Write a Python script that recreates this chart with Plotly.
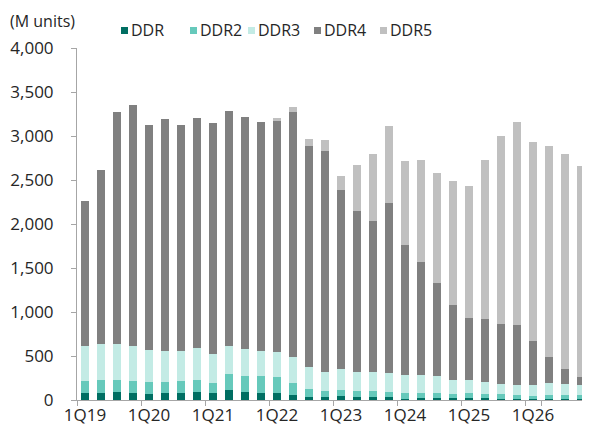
import plotly.graph_objects as go

# quarterly DRAM shipments by generation (M units)
quarters = [
    "1Q19", "2Q19", "3Q19", "4Q19", "1Q20", "2Q20", "3Q20", "4Q20",
    "1Q21", "2Q21", "3Q21", "4Q21", "1Q22", "2Q22", "3Q22", "4Q22",
    "1Q23", "2Q23", "3Q23", "4Q23", "1Q24", "2Q24", "3Q24", "4Q24",
    "1Q25", "2Q25", "3Q25", "4Q25", "1Q26", "2Q26", "3Q26", "4Q26",
]
tick_labels = ["1Q19", "1Q20", "1Q21", "1Q22", "1Q23", "1Q24", "1Q25", "1Q26"]

ddr = [80, 83, 95, 83, 72, 83, 83, 95, 83, 117, 95, 83, 83, 61, 34, 38,
       42, 38, 35, 30, 15, 19, 19, 19, 19, 19, 15, 11, 11, 11, 11, 11]
ddr2 = [136, 148, 132, 137, 133, 125, 137, 136, 110, 182, 178, 194, 178, 132, 91, 64,
        75, 64, 67, 65, 65, 64, 64, 53, 64, 53, 49, 46, 38, 46, 50, 46]
ddr3 = [401, 402, 409, 394, 367, 353, 337, 356, 330, 318, 310, 284, 284, 296, 250, 220,
        231, 212, 216, 216, 204, 201, 186, 155, 148, 133, 114, 113, 121, 132, 121, 113]
ddr4 = [1644, 1981, 2633, 2742, 2557, 2632, 2568, 2621, 2629, 2671, 2633, 2598, 2629, 2780, 2515, 2504,
        2042, 1838, 1720, 1931, 1474, 1288, 1064, 856, 705, 719, 689, 678, 504, 303, 174, 95]
ddr5 = [0, 0, 0, 0, 0, 0, 0, 0, 0, 0, 0, 0, 31, 64, 76, 129,
        152, 522, 754, 868, 962, 1155, 1247, 1406, 1492, 1799, 2137, 2315, 2258, 2398, 2443, 2394]

series_names = ["DDR", "DDR2", "DDR3", "DDR4", "DDR5"]
series_values = [ddr, ddr2, ddr3, ddr4, ddr5]
series_colors = ["#006e62", "#66c9bb", "#c3ebe5", "#808080", "#c0c0c0"]

FONT = "Open Sans"
TEXT = "#262626"
AXIS = "#a6a6a6"

# the page body has an 8px margin, so the figure is drawn 8px in from the corner
OFF = 8
W, H = 590 - OFF, 437 - OFF
L, R, T, B = 69, 1, 40, 37
pw, ph = W - L - R, H - T - B


def px_x(sx):
    return (sx - OFF - L) / pw


def px_y(sy):
    return (H - B - (sy - OFF)) / ph


fig = go.Figure()
for name, vals, col in zip(series_names, series_values, series_colors):
    fig.add_trace(go.Bar(
        x=quarters, y=vals, name=name,
        marker=dict(color=col, line=dict(width=0)),
        showlegend=False,
    ))

# hand-built legend row (small squares like the original)
legend_px = [121, 190, 248, 314, 380]
for sx, name, col in zip(legend_px, series_names, series_colors):
    fig.add_shape(type="rect", xref="paper", yref="paper",
                  x0=px_x(sx), x1=px_x(sx + 7),
                  y0=px_y(34), y1=px_y(27),
                  fillcolor=col, line=dict(width=0))
    fig.add_annotation(xref="paper", yref="paper", x=px_x(sx + 8),
                       y=px_y(30.5), text=name, showarrow=False,
                       xanchor="left", yanchor="middle",
                       font=dict(family=FONT, size=16, color=TEXT))

# unit label, kept just inside the top edge of the figure
fig.add_annotation(xref="paper", yref="paper", x=px_x(OFF), y=1 + T / ph,
                   text="(M units)", showarrow=False, xanchor="left", yanchor="top",
                   font=dict(family=FONT, size=16, color=TEXT))

fig.update_layout(
    barmode="stack",
    bargap=0.5,
    width=W, height=H,
    margin=dict(l=L, r=R, t=T, b=B, pad=0),
    plot_bgcolor="white",
    paper_bgcolor="white",
    font=dict(family=FONT, size=17, color=TEXT),
    showlegend=False,
)
fig.update_xaxes(
    type="category",
    range=[-0.5, len(quarters) - 0.5],
    tickvals=tick_labels,
    ticktext=tick_labels,
    tickson="boundaries",
    tickangle=0,
    ticks="outside", ticklen=5, tickcolor=AXIS,
    showline=True, linecolor=AXIS, linewidth=1,
    showgrid=False, automargin=False,
)
fig.update_yaxes(
    range=[0, 4000], dtick=500, tickformat=",",
    ticks="outside", ticklen=5, tickcolor=AXIS,
    showline=True, linecolor=AXIS, linewidth=1,
    showgrid=False, zeroline=False, automargin=False,
    ticklabelstandoff=14,
)

fig.write_html("out.html")
